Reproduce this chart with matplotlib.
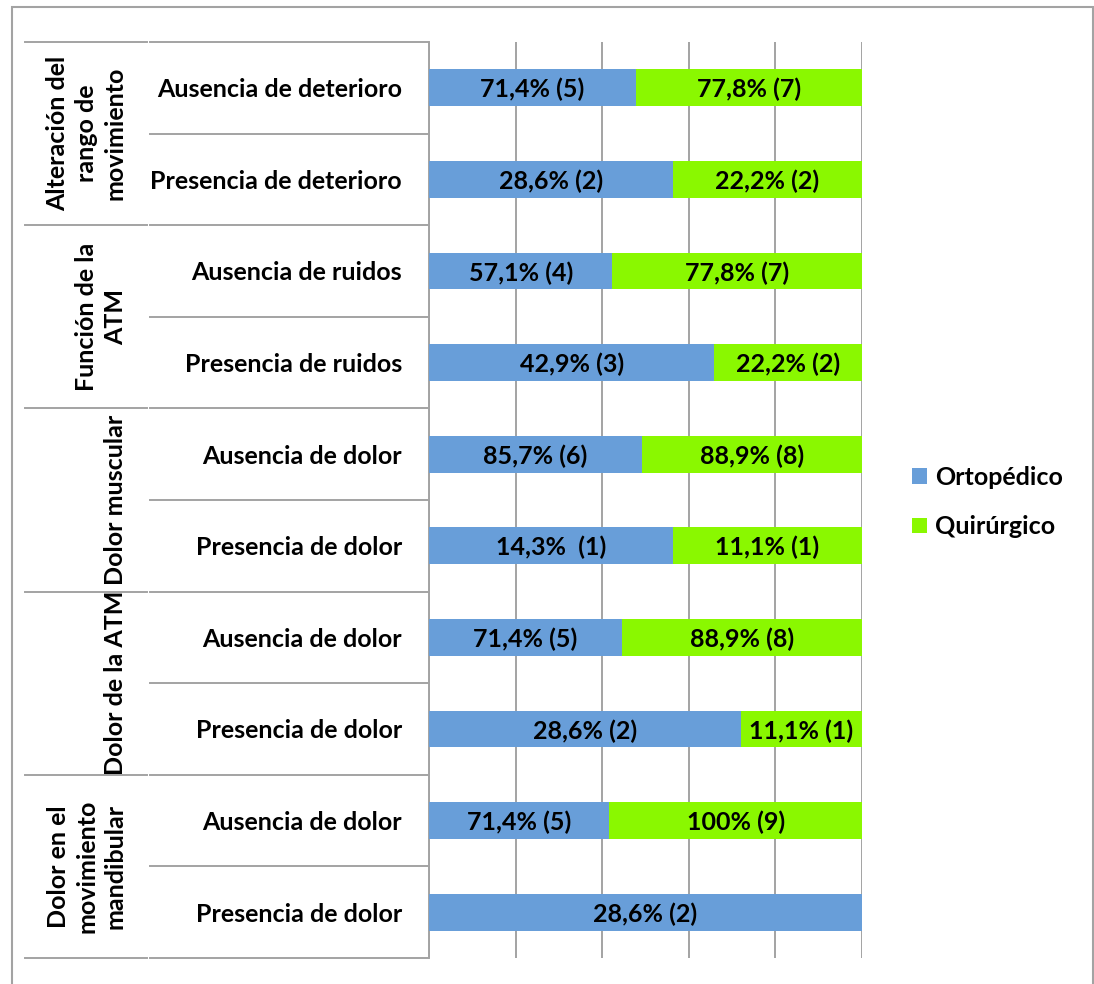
import matplotlib
matplotlib.use("Agg")
import matplotlib.pyplot as plt
from matplotlib.lines import Line2D
from matplotlib.patches import Rectangle
from matplotlib.transforms import blended_transform_factory

plt.rcParams['font.family'] = ['Lato', 'DejaVu Sans']
plt.rcParams['font.weight'] = 'bold'
FS = 18

# ---- data -------------------------------------------------------------
groups = [
    "Alteración del\nrango de\nmovimiento",
    "Función de la\nATM",
    "Dolor muscular",
    "Dolor de la ATM",
    "Dolor en el\nmovimiento\nmandibular",
]
categories = [
    "Ausencia de deterioro", "Presencia de deterioro",
    "Ausencia de ruidos", "Presencia de ruidos",
    "Ausencia de dolor", "Presencia de dolor",
    "Ausencia de dolor", "Presencia de dolor",
    "Ausencia de dolor", "Presencia de dolor",
]
series_names = ["Ortopédico", "Quirúrgico"]
ortopedico_pct = [71.4, 28.6, 57.1, 42.9, 85.7, 14.3, 71.4, 28.6, 71.4, 28.6]
ortopedico_n = [5, 2, 4, 3, 6, 1, 5, 2, 5, 2]
quirurgico_pct = [77.8, 22.2, 77.8, 22.2, 88.9, 11.1, 88.9, 11.1, 100, 0]
quirurgico_n = [7, 2, 7, 2, 8, 1, 8, 1, 9, 0]
ortopedico_labels = ["71,4% (5)", "28,6% (2)", "57,1% (4)", "42,9% (3)", "85,7% (6)",
                     "14,3%  (1)", "71,4% (5)", "28,6% (2)", "71,4% (5)", "28,6% (2)"]
quirurgico_labels = ["77,8% (7)", "22,2% (2)", "77,8% (7)", "22,2% (2)", "88,9% (8)",
                     "11,1% (1)", "88,9% (8)", "11,1% (1)", "100% (9)", ""]

# ---- figure -----------------------------------------------------------
W, H = 1094, 984
fig = plt.figure(figsize=(W / 100, H / 100), dpi=100)


def fx(x):
    return x / W


def fy(y):
    return 1 - y / H


GRID = "#A3A3A3"
BLUE = "#689ED9"
GREEN = "#8AF800"

top, bottom = 42, 958
ax = fig.add_axes([fx(429), fy(bottom), (862 - 429) / W, (bottom - top) / H])

n = len(categories)
rows = list(range(n))
totals = [o + q for o, q in zip(ortopedico_pct, quirurgico_pct)]
share_o = [o / t for o, t in zip(ortopedico_pct, totals)]
share_q = [q / t for q, t in zip(quirurgico_pct, totals)]

bar_h = 0.40
b1 = ax.barh(rows, share_o, height=bar_h, color=BLUE, label=series_names[0], zorder=3)
b2 = ax.barh(rows, share_q, left=share_o, height=bar_h, color=GREEN,
             label=series_names[1], zorder=3)

for i in rows:
    if share_o[i] > 0:
        ax.text(share_o[i] / 2, i, ortopedico_labels[i], ha="center",
                va="center_baseline", fontsize=FS, fontweight="bold", zorder=4)
    if share_q[i] > 0:
        ax.text(share_o[i] + share_q[i] / 2, i, quirurgico_labels[i], ha="center",
                va="center_baseline", fontsize=FS, fontweight="bold", zorder=4)

ax.set_xlim(0, 1)
ax.set_ylim(n - 0.5, -0.5)
ax.set_xticks([0, 0.2, 0.4, 0.6, 0.8, 1.0])
ax.set_yticks([])
ax.tick_params(axis="x", length=0, labelbottom=False)
ax.grid(axis="x", color=GRID, linewidth=1.4, zorder=0)
for side in ("top", "right", "bottom"):
    ax.spines[side].set_visible(False)
ax.spines["left"].set_color(GRID)
ax.spines["left"].set_linewidth(1.4)
ax.set_facecolor("none")

# ---- category table on the left --------------------------------------
trans = blended_transform_factory(fig.transFigure, ax.transData)

for i, cat in enumerate(categories):
    ax.text(fx(402), i, cat, transform=trans, ha="right", va="center_baseline",
            fontsize=FS, fontweight="bold")

for g, name in enumerate(groups):
    ax.text(fx(127), 2 * g + 0.5, name, transform=trans, rotation=90,
            ha="right", va="center", multialignment="center",
            fontsize=FS, fontweight="bold", linespacing=1.3)

for k in range(n + 1):
    yb = k - 0.5
    if k % 2 == 0:
        fig.add_artist(Line2D([fx(25), fx(147)], [yb, yb], transform=trans,
                              color=GRID, linewidth=1.4))
    fig.add_artist(Line2D([fx(150), fx(428)], [yb, yb], transform=trans,
                          color=GRID, linewidth=1.4))

# ---- legend -----------------------------------------------------------
fig.legend(handles=[b1, b2], labels=series_names, loc="center left",
           bbox_to_anchor=(fx(912), fy(502)), frameon=False,
           prop={"size": FS, "weight": "bold"},
           handlelength=0.58, handleheight=0.58, handletextpad=0.35,
           labelspacing=1.05, borderpad=0, borderaxespad=0)

# ---- outer frame ------------------------------------------------------
fig.add_artist(Rectangle((fx(12), fy(995)), fx(1093) - fx(12), fy(7) - fy(995),
                         transform=fig.transFigure, fill=False,
                         edgecolor=GRID, linewidth=1.5))

fig.savefig("out.png", dpi=100)
